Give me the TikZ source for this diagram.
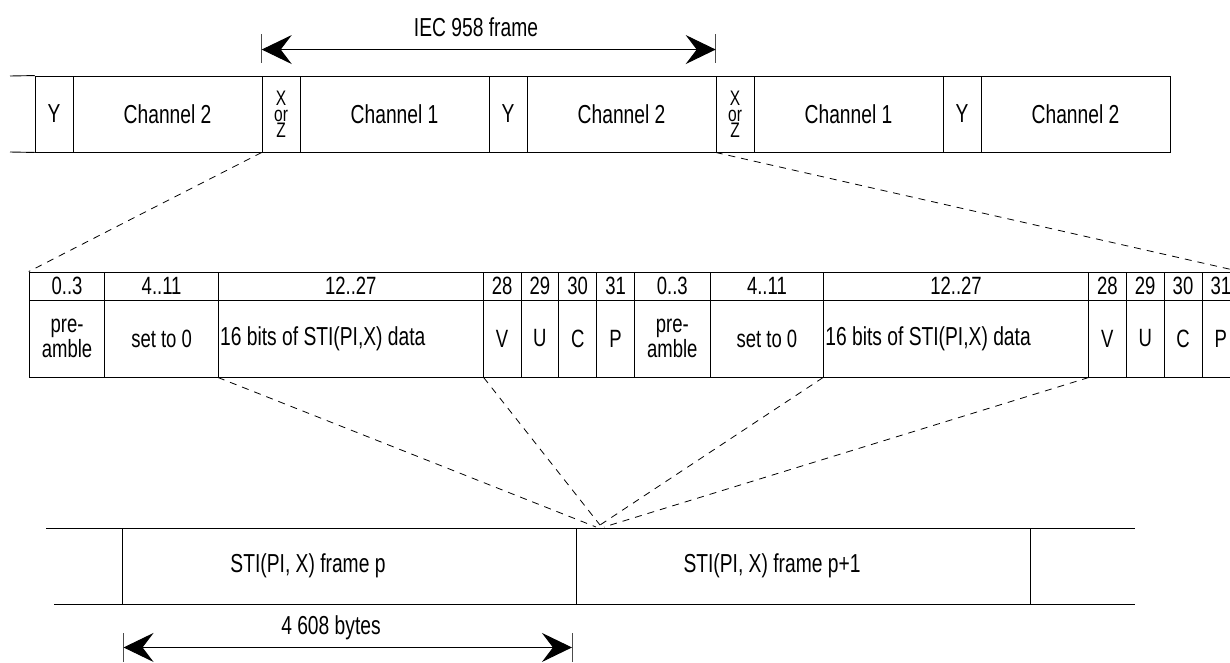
\documentclass[tikz,border=0pt]{standalone}
\usepackage{fontspec}
\setmainfont{Liberation Sans}[FakeStretch=0.74]
\usetikzlibrary{arrows.meta}
\newcommand{\CellUnit}{37.83}
\newcommand{\TopLeft}{35.2}
\newcommand{\MidLeft}{29.2}

\tikzset{
  frameline/.style={line width=0.9pt},
  topcell/.style={draw, frameline, rectangle, inner sep=0pt,
    minimum height=76pt, font=\fontsize{26}{27}\selectfont},
  xzcell/.style={align=center, font=\fontsize{21}{16}\selectfont},
  hdcell/.style={draw, frameline, inner sep=0pt, minimum height=28pt,
    font=\fontsize{25}{26}\selectfont},
  bodycell/.style={draw, frameline, inner sep=0pt, minimum height=77pt,
    align=center, font=\fontsize{25}{20}\selectfont},
  botcell/.style={draw, frameline, inner sep=0pt, minimum height=76pt},
  lbl/.style={inner sep=0pt, font=\fontsize{26}{27}\selectfont},
  zoomline/.style={line width=0.8pt, dash pattern=on 7pt off 6pt},
  dimarrow/.style={line width=1pt,
    {Stealth[length=30pt,width=29pt,inset=11pt]}-{Stealth[length=30pt,width=29pt,inset=11pt]}},
  tick/.style={line width=0.8pt, draw=black!70}
}

\begin{document}
\begin{tikzpicture}[x=1pt,y=-1pt]

  \useasboundingbox (0,0) rectangle (1230,662);

  % IEC 958 stream
  \foreach \nm/\a/\b/\txt in {ty1/0/1/Y, tca/1/6/Channel 2, tcb/7/12/Channel 1,
      ty2/12/13/Y, tcc/13/18/Channel 2, tcd/19/24/Channel 1,
      ty3/24/25/Y, tce/25/30/Channel 2}
  {
    \pgfmathsetmacro{\w}{(\b-\a)*\CellUnit}
    \pgfmathsetmacro{\cx}{\TopLeft+(\a+\b)/2*\CellUnit}
    \node[topcell, minimum width=\w pt] (\nm) at (\cx,114) {\txt};
  }
  \foreach \nm/\a in {txa/6, txb/18}
  {
    \pgfmathsetmacro{\cx}{\TopLeft+(\a+0.5)*\CellUnit}
    \node[topcell, xzcell, minimum width=\CellUnit pt] (\nm) at (\cx,114) {X\\or\\Z};
  }
  \coordinate (tstubN) at (10,76);
  \coordinate (tstubS) at (10,152);
  \draw[frameline] (tstubN) -- (ty1.north west);
  \draw[frameline] (tstubS) -- (ty1.south west);

  % frame length
  \coordinate (iecL) at ([yshift=26pt]txa.north west);
  \coordinate (iecR) at ([yshift=26pt]txb.north west);
  \draw[tick] ([yshift=13pt]txa.north west) -- ([yshift=42pt]txa.north west);
  \draw[tick] ([yshift=13pt]txb.north west) -- ([yshift=42pt]txb.north west);
  \draw[dimarrow] (iecL) -- (iecR);
  \node[lbl] (ieclbl) at (476,27) {IEC 958 frame};

  % subframes, 32 bits each
  \foreach \k in {0,1}
  {
    \foreach \nm/\a/\b/\hd/\txt in {pre/0/2/0..3/{pre-\\amble}, set/2/5/4..11/set to 0,
        bv/12/13/28/V, bu/13/14/29/U, bc/14/15/30/C, bp/15/16/31/P}
    {
      \pgfmathsetmacro{\w}{(\b-\a)*\CellUnit}
      \pgfmathsetmacro{\cx}{\MidLeft+(16*\k+(\a+\b)/2)*\CellUnit}
      \node[hdcell, minimum width=\w pt] (h\nm\k) at (\cx,286) {\hd};
      \node[bodycell, minimum width=\w pt] (\nm\k) at (\cx,338.5) {\txt};
    }
    \pgfmathsetmacro{\w}{7*\CellUnit}
    \pgfmathsetmacro{\cx}{\MidLeft+(16*\k+8.5)*\CellUnit}
    \node[hdcell, minimum width=\w pt] (hdat\k) at (\cx,286) {12..27};
    \node[bodycell, minimum width=\w pt] (dat\k) at (\cx,338.5) {};
    \node[lbl, anchor=west] (datlbl\k) at ([xshift=2pt]dat\k.west)
      {16 bits of STI(PI,X) data};
  }

  % STI(PI,X) stream
  \coordinate (bstubNW) at (46,528);
  \coordinate (bstubSW) at (54,604);
  \coordinate (bstubNE) at (1135,528);
  \coordinate (bstubSE) at (1135,604);
  \node[botcell, minimum width=454pt] (fp) at (349,566) {};
  \node[botcell, minimum width=454pt] (fpn) at (803,566) {};
  \draw[frameline] (bstubNW) -- (bstubNE);
  \draw[frameline] (bstubSW) -- (bstubSE);
  \node[lbl] (fplbl) at (308,566) {STI(PI, X) frame p};
  \node[lbl] (fpnlbl) at (772,566) {STI(PI, X) frame p+1};

  % frame size
  \coordinate (bytesL) at ([xshift=2pt,yshift=-43pt]fp.south west);
  \coordinate (bytesR) at ([xshift=-4.5pt,yshift=-43pt]fp.south east);
  \draw[tick] ([yshift=14pt]bytesL) -- ([yshift=-15pt]bytesL);
  \draw[tick] ([yshift=14pt]bytesR) -- ([yshift=-15pt]bytesR);
  \draw[dimarrow] (bytesL) -- (bytesR);
  \node[lbl] (byteslbl) at (331,628) {4 608 bytes};

  % zoom lines
  \coordinate (convA) at (596,527);
  \coordinate (convB) at (600,525);
  \coordinate (convC) at (604,527);
  \draw[zoomline] (txa.south west) -- (hpre0.north west);
  \draw[zoomline] (txb.south west) -- (hbp1.north east);
  \draw[zoomline] (dat0.south west) -- (convA);
  \draw[zoomline] (dat0.south east) -- (convB);
  \draw[zoomline] (dat1.south west) -- (convB);
  \draw[zoomline] (dat1.south east) -- (convC);

\end{tikzpicture}
\end{document}
